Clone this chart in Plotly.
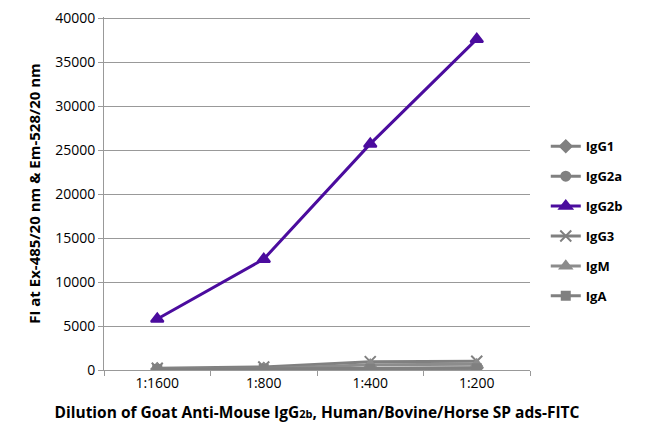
import plotly.graph_objects as go

categories = ["1:1600", "1:800", "1:400", "1:200"]
series_names = ["IgG1", "IgG2a", "IgG2b", "IgG3", "IgM", "IgA"]
igg1 = [100, 150, 200, 250]
igg2a = [80, 100, 150, 200]
igg2b = [5800, 12600, 25700, 37600]
igg3 = [200, 350, 950, 1000]
igm = [100, 150, 600, 650]
iga = [100, 120, 150, 200]
y_ticks = [0, 5000, 10000, 15000, 20000, 25000, 30000, 35000, 40000]

values = [igg1, igg2a, igg2b, igg3, igm, iga]
styles = [
    dict(color="#808080", symbol="diamond", size=9),
    dict(color="#808080", symbol="circle", size=9),
    dict(color="#4B0C9E", symbol="triangle-up", size=11),
    dict(color="#808080", symbol="x-thin", size=11),
    dict(color="#8c8c8c", symbol="triangle-up", size=10),
    dict(color="#808080", symbol="square", size=8),
]

FONT = "Open Sans, Noto Sans, sans-serif"
fig = go.Figure()
for i, (name, vals, st) in enumerate(zip(series_names, values, styles)):
    fig.add_trace(go.Scatter(
        x=categories, y=vals, name=name, mode="lines+markers",
        legendgroup=name,
        line=dict(color=st["color"], width=3),
        marker=dict(symbol=st["symbol"], size=st["size"], color=st["color"],
                    line=dict(color=st["color"], width=2)),
    ))

fig.update_layout(
    width=650, height=445,
    margin=dict(l=96, r=128, t=9, b=83),
    paper_bgcolor="white", plot_bgcolor="white",
    font=dict(family=FONT, size=13, color="black"),
    showlegend=True,
    legend=dict(x=1.037, y=0.676, xanchor="left", yanchor="top",
                font=dict(family=FONT, size=13, color="black", weight="bold"),
                tracegroupgap=10, itemwidth=30, traceorder="grouped"),
    xaxis=dict(
        type="category", range=[-0.5, 3.5], automargin=False,
        showline=True, linecolor="#999999", linewidth=1,
        ticks="outside", tickson="boundaries", ticklen=5, tickcolor="#999999",
        showgrid=False,
        tickfont=dict(family=FONT, size=14, color="black"),
        title=dict(text="<b>Dilution of Goat Anti-Mouse IgG<span style='font-size:11px'>2b</span>, Human/Bovine/Horse SP ads-FITC</b>",
                   font=dict(family=FONT, size=15.5, color="black"), standoff=16),
    ),
    yaxis=dict(
        range=[0, 40120], tickvals=y_ticks, tickformat="d", automargin=False,
        ticklabeloverflow="allow",
        showline=True, linecolor="#999999", linewidth=1,
        ticks="outside", ticklen=5, tickcolor="#999999",
        showgrid=True, gridcolor="#999999", gridwidth=1,
        zeroline=False,
        tickfont=dict(family=FONT, size=14, color="black"),
        title=dict(text="<b>FI at Ex-485/20 nm & Em-528/20 nm</b>",
                   font=dict(family=FONT, size=15, color="black"), standoff=10),
    ),
)

fig.write_html("out.html")
